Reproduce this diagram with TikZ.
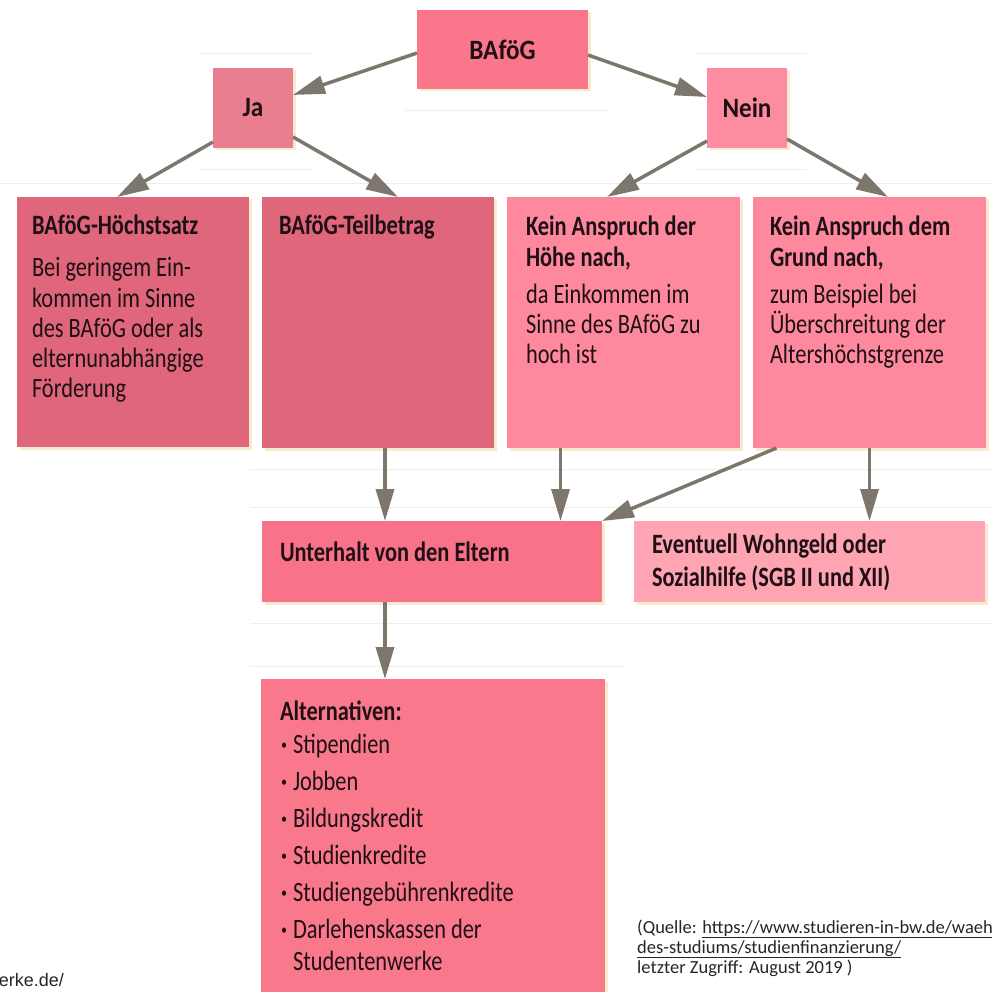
\documentclass[tikz,border=0pt]{standalone}
\usepackage{fontspec}
\setmainfont{Carlito}[FakeStretch=0.8]
\newfontfamily\titlefont{Carlito}[FakeStretch=0.9]
\newfontfamily\notefont{Carlito}
\newfontfamily\arialfont{Liberation Sans}
\usetikzlibrary{arrows.meta,calc,shadows}

\definecolor{cTop}{RGB}{249,118,139}
\definecolor{cJa}{RGB}{233,127,142}
\definecolor{cNein}{RGB}{252,141,161}
\definecolor{cDark}{RGB}{223,102,123}
\definecolor{cLight}{RGB}{254,137,159}
\definecolor{cUnt}{RGB}{248,114,138}
\definecolor{cEvt}{RGB}{254,164,179}
\definecolor{cAlt}{RGB}{249,120,140}
\definecolor{arrc}{RGB}{125,118,109}
\definecolor{txt}{RGB}{30,16,20}
\definecolor{gridc}{RGB}{238,238,238}
\definecolor{shc}{RGB}{246,236,205}

\newcommand{\btext}[1]{\parbox[t]{330pt}{\raggedright\fontsize{28}{30}\selectfont #1}}
\newcommand{\bul}{\makebox[13pt][l]{\hspace{1pt}\textbf{·}}}

\tikzset{
  box/.style={draw=none, inner sep=0pt, outer sep=0pt,
    general shadow={fill=shc, shadow xshift=2.5pt, shadow yshift=-2.5pt}},
  tx/.style={anchor=base west, inner sep=0pt, outer sep=0pt, text=txt},
  ttl/.style={text=txt, font=\titlefont\bfseries\fontsize{28}{30}\selectfont},
  arr/.style={draw=arrc, line width=3.5pt, -{Triangle[length=32pt,width=18pt]}},
  gridl/.style={draw=gridc, line width=0.8pt}
}

\begin{document}
\begin{tikzpicture}[x=1pt,y=-1pt]
\useasboundingbox (0,0) rectangle (992,992);
\fill[white] (0,0) rectangle (992,992);

% faint background lines
\draw[gridl] (200,53) -- (313,53);
\draw[gridl] (695,53) -- (807,53);
\draw[gridl] (405,110) -- (608,110);
\draw[gridl] (200,169) -- (313,169);
\draw[gridl] (695,169) -- (807,169);
\draw[gridl] (0,183) -- (992,183);
\draw[gridl] (250,469) -- (992,469);
\draw[gridl] (250,507) -- (992,507);
\draw[gridl] (250,623) -- (992,623);
\draw[gridl] (250,666) -- (624,666);

% boxes
\node[box, fill=cTop, minimum width=171pt, minimum height=79pt, ttl] (bafog) at (502.5,49.5) {BAföG};
\node[box, fill=cJa, minimum width=80pt, minimum height=80pt, ttl] (ja) at (253,108) {Ja};
\node[box, fill=cNein, minimum width=80pt, minimum height=80pt, ttl] (nein) at (747,108) {Nein};
\node[box, fill=cDark, minimum width=232pt, minimum height=250pt] (hoechst) at (133,322) {};
\node[box, fill=cDark, minimum width=232pt, minimum height=251pt] (teil) at (378,322.5) {};
\node[box, fill=cLight, minimum width=233pt, minimum height=251pt] (hoehe) at (623.5,322.5) {};
\node[box, fill=cLight, minimum width=233pt, minimum height=251pt] (grund) at (869.5,322.5) {};
\node[box, fill=cUnt, minimum width=340pt, minimum height=81pt] (unterhalt) at (432,561.5) {};
\node[box, fill=cEvt, minimum width=351pt, minimum height=81pt] (event) at (809.5,561.5) {};
\node[box, fill=cAlt, minimum width=344pt, minimum height=321pt] (alt) at (433,839.5) {};

% box texts
\node[tx] (thoechst) at (32,235) {\btext{\textbf{BAföG-Höchstsatz}\\[12pt]
  Bei geringem Ein-\\ kommen im Sinne\\ des BAföG oder als\\ elternunabhängige\\ Förderung}};
\node[tx] (tteil) at (279,235) {\btext{\textbf{BAföG-Teilbetrag}}};
\node[tx] (thoehe) at (526,236) {\btext{\textbf{Kein Anspruch der}\\[1pt]
  \textbf{Höhe nach,}\\[6pt] da Einkommen im\\ Sinne des BAföG zu\\ hoch ist}};
\node[tx] (tgrund) at (770,236) {\btext{\textbf{Kein Anspruch dem}\\[1pt]
  \textbf{Grund nach,}\\[6pt] zum Beispiel bei\\ Überschreitung der\\ Altershöchstgrenze}};
\node[tx] (tunt) at (280,561) {\btext{\textbf{Unterhalt von den Eltern}}};
\node[tx] (tevt) at (652,553) {\btext{\textbf{Eventuell Wohngeld oder}\\[3pt]
  \textbf{Sozialhilfe (SGB II und XII)}}};
\node[tx] (talt) at (280,720) {\btext{\textbf{Alternativen:}\\[3pt]
  \bul Stipendien\\[7pt] \bul Jobben\\[7pt] \bul Bildungskredit\\[7pt]
  \bul Studienkredite\\[7pt] \bul Studiengebührenkredite\\[7pt]
  \bul Darlehenskassen der\\[2pt] \hspace*{13pt}Studentenwerke}};

% connectors
\draw[arr] ($(bafog.west)+(0,3.5)$) -- ($(ja.east)+(0,-13)$);
\draw[arr] ($(bafog.east)+(0,5.5)$) -- ($(nein.west)+(0,-11)$);
\draw[arr] ($(ja.south west)+(0,-6)$) -- ($(hoechst.north)+(-16,0)$);
\draw[arr] ($(ja.south east)+(0,-11)$) -- ($(teil.north)+(20,0)$);
\draw[arr] ($(nein.south west)+(0,-7)$) -- ($(hoehe.north)+(-16.5,0)$);
\draw[arr] ($(nein.south east)+(0,-9)$) -- ($(grund.north)+(18.5,0)$);
\coordinate (c1) at ($(teil.south)+(7,0)$);
\draw[arr] (c1) -- (c1 |- unterhalt.north);
\coordinate (c2) at ($(hoehe.south)+(-63,0)$);
\draw[arr] (c2) -- (c2 |- unterhalt.north);
\draw[arr] ($(grund.south)+(-93,0)$) -- (unterhalt.north east);
\draw[arr] (grund.south) -- (grund.south |- event.north);
\coordinate (c3) at ($(unterhalt.south)+(-47,0)$);
\draw[arr] (c3) -- (c3 |- alt.north);

% source notes
\node[anchor=base west, inner sep=0pt, text=black!85,
  font=\notefont\fontsize{18.5}{20}\selectfont, align=left] (quelle) at (637,973)
  {(Quelle: \underline{https://www.studieren-in-bw.de/waeh}\\
   \underline{des-studiums/studienfinanzierung/}\\
   letzter Zugriff: August 2019 )};
\node[anchor=base east, inner sep=0pt, text=black!85,
  font=\arialfont\fontsize{18}{20}\selectfont] (werke) at (64,986) {erke.de/};
\end{tikzpicture}
\end{document}
